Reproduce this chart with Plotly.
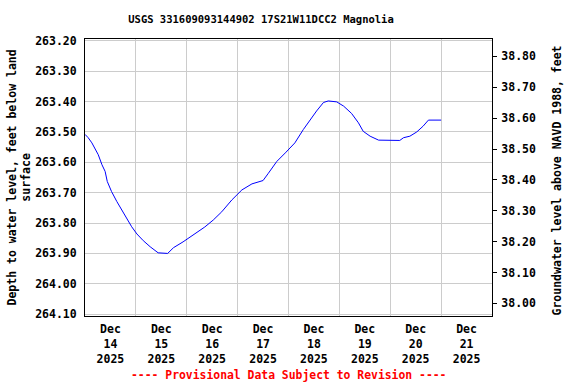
import plotly.graph_objects as go

title_text = "USGS 331609093144902 17S21W11DCC2 Magnolia"
left_title = "Depth to water level, feet below land<br>surface"
right_title = "Groundwater level above NAVD 1988, feet"
provisional = "---- Provisional Data Subject to Revision ----"

times = [
    "2025-12-14 00:00", "2025-12-14 01:30", "2025-12-14 03:15", "2025-12-14 04:45",
    "2025-12-14 06:15", "2025-12-14 08:00", "2025-12-14 09:30", "2025-12-14 10:30",
    "2025-12-14 12:30", "2025-12-14 15:00", "2025-12-14 17:15", "2025-12-14 19:45",
    "2025-12-14 22:00", "2025-12-15 00:30", "2025-12-15 03:30", "2025-12-15 06:45",
    "2025-12-15 10:30", "2025-12-15 15:00", "2025-12-15 17:45", "2025-12-15 22:15",
    "2025-12-16 03:00", "2025-12-16 08:30", "2025-12-16 12:30", "2025-12-16 16:30",
    "2025-12-16 21:15", "2025-12-17 02:00", "2025-12-17 06:45", "2025-12-17 12:00",
    "2025-12-17 14:30", "2025-12-17 18:30", "2025-12-17 22:30", "2025-12-18 03:00",
    "2025-12-18 07:00", "2025-12-18 10:00", "2025-12-18 13:15", "2025-12-18 16:30",
    "2025-12-18 18:45", "2025-12-18 22:45", "2025-12-19 02:00", "2025-12-19 05:45",
    "2025-12-19 09:00", "2025-12-19 11:15", "2025-12-19 14:30", "2025-12-19 18:30",
    "2025-12-20 00:00", "2025-12-20 04:30", "2025-12-20 06:15", "2025-12-20 09:15",
    "2025-12-20 12:30", "2025-12-20 15:30", "2025-12-20 18:00", "2025-12-21 00:00",
]
depth = [
    263.508, 263.519, 263.536, 263.556,
    263.575, 263.608, 263.630, 263.663,
    263.696, 263.729, 263.756, 263.784,
    263.812, 263.836, 263.858, 263.878,
    263.898, 263.900, 263.881, 263.862,
    263.840, 263.813, 263.790, 263.763,
    263.724, 263.691, 263.671, 263.660,
    263.636, 263.597, 263.569, 263.536,
    263.492, 263.461, 263.431, 263.403,
    263.398, 263.401, 263.415, 263.439,
    263.470, 263.498, 263.514, 263.527,
    263.528, 263.528, 263.519, 263.514,
    263.500, 263.481, 263.461, 263.461,
]

label_times = ["2025-12-14 12:00", "2025-12-15 12:00", "2025-12-16 12:00", "2025-12-17 12:00",
               "2025-12-18 12:00", "2025-12-19 12:00", "2025-12-20 12:00", "2025-12-21 12:00"]
label_text = ["Dec<br>14<br>2025", "Dec<br>15<br>2025", "Dec<br>16<br>2025", "Dec<br>17<br>2025",
              "Dec<br>18<br>2025", "Dec<br>19<br>2025", "Dec<br>20<br>2025", "Dec<br>21<br>2025"]
left_ticks = [263.20, 263.30, 263.40, 263.50, 263.60, 263.70, 263.80, 263.90, 264.00, 264.10]
right_ticks = [38.00, 38.10, 38.20, 38.30, 38.40, 38.50, 38.60, 38.70, 38.80]

FONT = "DejaVu Sans Mono"
fig = go.Figure()
fig.add_trace(go.Scatter(x=times, y=depth, mode="lines",
                         line=dict(color="#0000ff", width=1), showlegend=False))
# invisible trace for right axis
fig.add_trace(go.Scatter(x=[times[0]], y=[38.5], yaxis="y2", mode="lines",
                         line=dict(width=0), showlegend=False, hoverinfo="skip"))

fig.update_layout(
    width=576, height=384,
    margin=dict(l=85, r=84, t=39, b=68, autoexpand=False),
    paper_bgcolor="white", plot_bgcolor="white",
    font=dict(family=FONT, size=11.5, color="black"),
    title=dict(text="<b>" + title_text + "</b>", x=261 / 576, xref="container", xanchor="center",
               y=1 - 19 / 384, yanchor="middle", font=dict(family=FONT, size=10.5)),
    xaxis=dict(type="date", range=["2025-12-14", "2025-12-22"],
               tickmode="array", tickvals=label_times,
               ticktext=["<b>" + t.replace("<br>", "</b><br><b>") + "</b>" for t in label_text],
               ticks="", showgrid=False, showline=True, linecolor="black", linewidth=1,
               mirror=True, tickfont=dict(family=FONT, size=11.5), ticklabelstandoff=2,
               minor=dict(dtick=86400000, tick0="2025-12-14", showgrid=True,
                          gridcolor="#cccccc", gridwidth=1, ticks=""),
               zeroline=False),
    yaxis=dict(range=[264.106, 263.194], tickmode="array", tickvals=left_ticks,
               ticktext=["<b>%.2f</b>" % v for v in left_ticks],
               showgrid=True, gridcolor="#cccccc", gridwidth=1, ticks="",
               showline=True, linecolor="black", linewidth=1, mirror=True,
               zeroline=False, tickfont=dict(family=FONT, size=11.5), ticklabelstandoff=5),
    yaxis2=dict(range=[37.959, 38.8565], overlaying="y", side="right",
                tickmode="array", tickvals=right_ticks,
                ticktext=["<b>%.2f</b>" % v for v in right_ticks],
                showgrid=False, ticks="outside", ticklen=4, tickcolor="black",
                showline=True, linecolor="black", zeroline=False, ticklabelstandoff=2,
                tickfont=dict(family=FONT, size=11.5)),
    annotations=[
        dict(text="<b>" + left_title + "</b>", xref="paper", yref="paper",
             x=-85 / 407 + 19 / 407, y=0.5, xanchor="center", yanchor="middle",
             textangle=-90, showarrow=False, font=dict(family=FONT, size=11.5)),
        dict(text="<b>" + right_title + "</b>", xref="paper", yref="paper",
             x=(557 - 85) / 407, y=0.5 - 3 / 277, xanchor="center", yanchor="middle",
             textangle=-90, showarrow=False, font=dict(family=FONT, size=11.5)),
        dict(text="<b>" + provisional + "</b>", xref="paper", yref="paper",
             x=(288 - 85) / 407, y=-(375 - 316) / 277, xanchor="center", yanchor="middle",
             showarrow=False, font=dict(family=FONT, size=11.4, color="red")),
    ],
)
fig.write_html("out.html", config={"displayModeBar": False},
               post_script="document.body.style.margin='0';document.body.style.padding='0';")
